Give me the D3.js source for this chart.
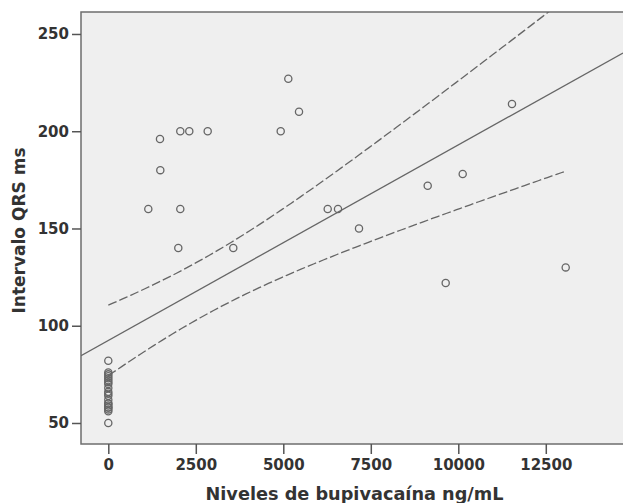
<!DOCTYPE html>
<html>
<head>
<meta charset="utf-8">
<script src="https://cdn.jsdelivr.net/npm/d3@7"></script>
<style>
  body { margin: 0; background: #fff; }
  svg { display: block; }
  .axis text { font-family: "DejaVu Sans", sans-serif; font-weight: bold; font-size: 15px; fill: #333; }
  .axis line { stroke: #555; stroke-width: 1.5; }
  .axis path { display: none; }
  .title { font-family: "DejaVu Sans", sans-serif; font-weight: bold; fill: #333; }
</style>
</head>
<body>
<svg width="623" height="503"></svg>
<script>
// niveles de bupivacaina (ng/mL) y QRS (ms)
const bupivacaina = [
    0, 0, 0, 0, 0, 0, 0, 0, 0, 0, 0, 0, 0, 0, 0, 0, 0, 0, 0, 0, 0,
    1143, 1477, 1486, 2000, 2057, 2057, 2314, 2840, 3571, 4926,
    5143, 5449, 6269, 6563, 7163, 9126, 9640, 10126, 11534, 13069
];
const qrs = [
    82, 76, 75, 74, 73, 72, 71, 70, 68, 66, 65, 64, 62, 60, 60, 59, 58, 58, 57, 56, 50,
    160, 196, 180, 140, 160, 200, 200, 200, 140, 200,
    227, 210, 160, 160, 150, 172, 122, 178, 214, 130
];
const xTicks = [0, 2500, 5000, 7500, 10000, 12500];
const yTicks = [50, 100, 150, 200, 250];
const tCrit = 2.023; // t(0.975, 39 gl)

const svg = d3.select('svg');

const box = {left: 81, right: 623, top: 12, bottom: 444};

const x = d3.scaleLinear()
    .domain([-780, 14706])
    .range([box.left, box.right]);

const y = d3.scaleLinear()
    .domain([39.2, 261.3])
    .range([box.bottom, box.top]);

/////////////////////////////
// FIT (minimos cuadrados + IC 95% de la media)
/////////////////////////////
const data = bupivacaina.map((d, i) => ({x: d, y: qrs[i]}));
const n = data.length;
const mx = d3.mean(data, d => d.x);
const my = d3.mean(data, d => d.y);
const sxx = d3.sum(data, d => (d.x - mx) ** 2);
const sxy = d3.sum(data, d => (d.x - mx) * (d.y - my));
const b1 = sxy / sxx;
const b0 = my - b1 * mx;
const sse = d3.sum(data, d => (d.y - b0 - b1 * d.x) ** 2);
const s = Math.sqrt(sse / (n - 2));
const fit = (v) => b0 + b1 * v;
const halfWidth = (v) => tCrit * s * Math.sqrt(1 / n + (v - mx) ** 2 / sxx);

/////////////////////////////
// PLOT
/////////////////////////////
svg.append('defs').append('clipPath')
    .attr('id', 'plotClip')
    .append('rect')
        .attr('x', box.left).attr('y', box.top)
        .attr('width', box.right - box.left + 2).attr('height', box.bottom - box.top);

svg.append('rect')
    .attr('x', box.left)
    .attr('y', box.top)
    .attr('width', box.right - box.left + 4)
    .attr('height', box.bottom - box.top)
    .attr('fill', '#efefef')
    .attr('stroke', '#6e6e6e')
    .attr('stroke-width', 1.5);

const plot = svg.append('g').attr('clip-path', 'url(#plotClip)');

const line = d3.line().x(d => x(d[0])).y(d => y(d[1]));

// linea de ajuste, a lo ancho de todo el eje
plot.append('path')
    .attr('d', line(x.domain().map(v => [v, fit(v)])))
    .attr('fill', 'none')
    .attr('stroke', '#666')
    .attr('stroke-width', 1.3);

// bandas de confianza, del minimo al maximo de x
const xMin = d3.min(bupivacaina), xMax = d3.max(bupivacaina);
const steps = d3.range(0, 101).map(i => xMin + (xMax - xMin) * i / 100);

[1, -1].forEach(sign => {
    plot.append('path')
        .attr('d', line(steps.map(v => [v, fit(v) + sign * halfWidth(v)])))
        .attr('fill', 'none')
        .attr('stroke', '#666')
        .attr('stroke-width', 1.3)
        .style('stroke-dasharray', '9,3');
});

plot.append('g')
    .selectAll('circle')
    .data(data)
    .enter()
    .append('circle')
        .attr('cx', d => x(d.x))
        .attr('cy', d => y(d.y))
        .attr('r', 3.6)
        .attr('fill', 'none')
        .attr('stroke', '#666')
        .attr('stroke-width', 1.3);

/////////////////////////////
// AXES
/////////////////////////////
svg.append('g')
    .attr('class', 'axis')
    .attr('transform', 'translate(0,' + box.bottom + ')')
    .call(d3.axisBottom(x).tickValues(xTicks).tickFormat(d3.format('d')).tickSize(10).tickPadding(5));

svg.append('g')
    .attr('class', 'axis')
    .attr('transform', 'translate(' + box.left + ',0)')
    .call(d3.axisLeft(y).tickValues(yTicks).tickFormat(d3.format('d')).tickSize(9).tickPadding(3));

svg.append('text')
    .attr('class', 'title')
    .attr('x', 354.5)
    .attr('y', 500)
    .attr('text-anchor', 'middle')
    .style('font-size', '17.7px')
    .text('Niveles de bupivacaína ng/mL');

svg.append('text')
    .attr('class', 'title')
    .attr('transform', 'translate(25,230.5) rotate(-90)')
    .attr('text-anchor', 'middle')
    .style('font-size', '17px')
    .text('Intervalo QRS ms');
</script>
</body>
</html>
